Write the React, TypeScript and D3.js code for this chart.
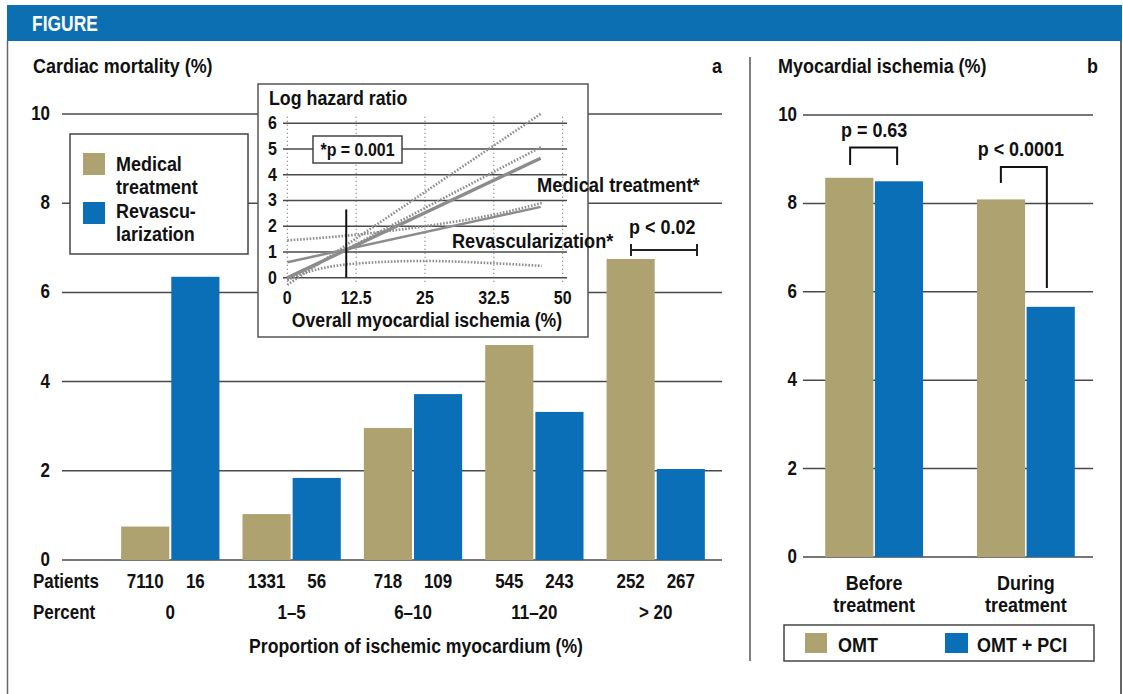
import React from "react";
import * as d3 from "d3";

// ---------- data ----------
const groups = ["0", "1–5", "6–10", "11–20", "> 20"];
const medical = [0.75, 1.03, 2.96, 4.82, 6.75];
const revasc = [6.35, 1.84, 3.72, 3.32, 2.04];
const patientsMedical = [7110, 1331, 718, 545, 252];
const patientsRevasc = [16, 56, 109, 243, 267];
const mainTicks = [0, 2, 4, 6, 8, 10];

const insetXTicks = [0, 12.5, 25, 37.5, 50];
const insetXLabels = ["0", "12.5", "25", "32.5", "50"];
const insetYTicks = [0, 1, 2, 3, 4, 5, 6];
const medicalLine: [number, number][] = [[0, 0], [46, 4.64]];
const medicalUpper: [number, number][] = [[0, -0.28], [46.2, 6.39]];
const medicalLower: [number, number][] = [[0, -0.1], [46.2, 5.09]];
const revascLine: [number, number][] = [[0, 0.6], [46, 2.75]];
const revascUpper: [number, number][] = [[0, 1.45], [12.5, 1.67], [25, 2.0], [37.5, 2.45], [46.2, 2.9]];
const revascLower: [number, number][] = [[0, -0.05], [6, 0.35], [12.5, 0.55], [25, 0.65], [37.5, 0.56], [46.2, 0.46]];
const refX = 10.7;
const refTop = 2.65;

const bGroups = [["Before", "treatment"], ["During", "treatment"]];
const omt = [8.58, 8.09];
const omtPci = [8.5, 5.66];
const bTicks = [0, 2, 4, 6, 8, 10];

// ---------- style ----------
const TAN = "#aea370";
const BLUE = "#0a6fb6";
const HEAD = "#0b6fb2";
const FF = "'Liberation Sans','Arial',sans-serif";
const GRID = "#4a4a4a";
const VS = 1.16; // vertical enlargement
const HS = 0.86; // horizontal condensing

type TP = { x: number; y: number; s: number; a?: "start" | "middle" | "end"; fill?: string; w?: number; children: React.ReactNode };
function T({ x, y, s, a = "start", fill = "#111", w = 1, children }: TP) {
  return (
    <text
      transform={`translate(${x},${y}) scale(${HS * w},1)`}
      fontSize={s * VS}
      textAnchor={a}
      fontFamily={FF}
      fontWeight={700}
      fill={fill}
    >
      {children}
    </text>
  );
}

export default function App() {
  // panel a scales
  const y = d3.scaleLinear().domain([0, 10]).range([560, 114]);
  const xg = d3.scaleBand<string>().domain(groups).range([109, 717]).paddingInner(0.19).paddingOuter(0.1);
  const xs = d3.scaleBand<string>().domain(["m", "r"]).range([0, xg.bandwidth()]).paddingInner(0.04);

  // inset scales
  const ix = d3.scaleLinear().domain([0, 50]).range([287.3, 562.7]);
  const iy = d3.scaleLinear().domain([0, 6]).range([277.7, 123.2]);
  const line = d3.line<[number, number]>().x(d => ix(d[0])).y(d => iy(d[1]));
  const curve = d3.line<[number, number]>().x(d => ix(d[0])).y(d => iy(d[1])).curve(d3.curveMonotoneX);

  // panel b scales
  const yb = d3.scaleLinear().domain([0, 10]).range([557, 115]);
  const bNames = bGroups.map(g => g.join(" "));
  const xb = d3.scaleBand<string>().domain(bNames).range([807, 1093]).paddingInner(0.355).paddingOuter(0.12);
  const xbs = d3.scaleBand<string>().domain(["o", "p"]).range([0, xb.bandwidth()]).paddingInner(0.03);

  const c0 = xb(bNames[0])! + xb.bandwidth() / 2;
  const c1 = xb(bNames[1])! + xb.bandwidth() / 2;
  const dot = { fill: "none", stroke: "#8e8e8e", strokeWidth: 2.6, strokeDasharray: "1.6 1.6" };

  return (
    <svg width={1123} height={694} style={{ position: "absolute", left: 0, top: 0, background: "#fff" }}>
      {/* frame */}
      <rect x={7} y={5} width={1115} height={36} fill={HEAD} />
      <T x={32} y={31} s={19} w={0.92} fill="#fff">FIGURE</T>
      <line x1={7.5} x2={7.5} y1={41} y2={694} stroke="#666" strokeWidth={1.5} />
      <line x1={1121} x2={1121} y1={41} y2={694} stroke="#666" strokeWidth={2} />
      <line x1={750} x2={750} y1={57} y2={661} stroke="#555" strokeWidth={1.5} />

      {/* ---------- panel a ---------- */}
      <T x={33} y={73} s={18}>Cardiac mortality (%)</T>
      <T x={712} y={73} s={18}>a</T>
      {mainTicks.map(t => (
        <g key={t}>
          <line x1={62} x2={722} y1={y(t)} y2={y(t)} stroke={GRID} strokeWidth={1.5} />
          <T x={50} y={y(t) + 6} s={17} a="end">{t}</T>
        </g>
      ))}
      {groups.map((g, i) => (
        <g key={g} transform={`translate(${xg(g)},0)`}>
          <rect x={xs("m")} y={y(medical[i])} width={xs.bandwidth()} height={y(0) - y(medical[i])} fill={TAN} />
          <rect x={xs("r")} y={y(revasc[i])} width={xs.bandwidth()} height={y(0) - y(revasc[i])} fill={BLUE} />
          <T x={xs("m")! + xs.bandwidth() / 2} y={588} s={17} a="middle">{patientsMedical[i]}</T>
          <T x={xs("r")! + xs.bandwidth() / 2} y={588} s={17} a="middle">{patientsRevasc[i]}</T>
          <T x={xg.bandwidth() / 2} y={619} s={17} a="middle">{g}</T>
        </g>
      ))}
      <T x={33} y={588} s={17}>Patients</T>
      <T x={33} y={619} s={17}>Percent</T>
      <T x={416} y={653} s={17} w={1.04} a="middle">Proportion of ischemic myocardium (%)</T>

      {/* legend a */}
      <rect x={70} y={134} width={178} height={120} fill="#fff" stroke="#444" strokeWidth={1.5} />
      <rect x={83} y={153} width={22} height={22} fill={TAN} />
      <rect x={83} y={202} width={22} height={22} fill={BLUE} />
      <T x={116} y={171} s={18}>Medical</T>
      <T x={116} y={194} s={18}>treatment</T>
      <T x={116} y={218} s={18}>Revascu-</T>
      <T x={116} y={241} s={18}>larization</T>

      {/* p < 0.02 */}
      <T x={629} y={234} s={18}>p &lt; 0.02</T>
      <line x1={631} x2={697} y1={250} y2={250} stroke="#222" strokeWidth={2} />
      <line x1={631} x2={631} y1={244} y2={256} stroke="#222" strokeWidth={2} />
      <line x1={697} x2={697} y1={244} y2={256} stroke="#222" strokeWidth={2} />

      {/* ---------- inset ---------- */}
      <rect x={258} y={84} width={330} height={253} fill="#fff" stroke="#555" strokeWidth={1.5} />
      <T x={269} y={105} s={17} w={1.05}>Log hazard ratio</T>
      {insetYTicks.map(t => (
        <g key={t}>
          <line x1={283} x2={567} y1={iy(t)} y2={iy(t)} stroke={GRID} strokeWidth={1.5} />
          <T x={277} y={iy(t) + 6} s={16} a="end">{t}</T>
        </g>
      ))}
      {insetXTicks.map((t, i) => (
        <g key={t}>
          <line x1={ix(t)} x2={ix(t)} y1={iy(6.25)} y2={iy(-0.2)} stroke="#555" strokeWidth={1} strokeDasharray="1 3" />
          <T x={ix(t)} y={304} s={16} a="middle">{insetXLabels[i]}</T>
        </g>
      ))}
      <T x={427} y={327} s={17} w={1.04} a="middle">Overall myocardial ischemia (%)</T>

      <g strokeLinecap="butt">
        <path d={line(medicalUpper)!} {...dot} />
        <path d={line(medicalLower)!} {...dot} />
        <path d={curve(revascUpper)!} {...dot} />
        <path d={curve(revascLower)!} {...dot} />
        <path d={line(revascLine)!} fill="none" stroke="#8c8c8c" strokeWidth={2.5} />
        <path d={line(medicalLine)!} fill="none" stroke="#8c8c8c" strokeWidth={3.4} />
      </g>
      <line x1={ix(refX)} x2={ix(refX)} y1={iy(0)} y2={iy(refTop)} stroke="#111" strokeWidth={2} />

      <rect x={313} y={136} width={89} height={27} fill="#fff" stroke="#444" strokeWidth={1.5} />
      <T x={357.5} y={156} s={16} a="middle">*p = 0.001</T>
      <T x={537} y={192} s={17} w={1.08}>Medical treatment*</T>
      <T x={452} y={248} s={17} w={1.07}>Revascularization*</T>

      {/* ---------- panel b ---------- */}
      <T x={778} y={73} s={18}>Myocardial ischemia (%)</T>
      <T x={1087} y={73} s={18}>b</T>
      {bTicks.map(t => (
        <g key={t}>
          <line x1={803} x2={1093} y1={yb(t)} y2={yb(t)} stroke={GRID} strokeWidth={1.5} />
          <T x={797} y={yb(t) + 6} s={17} a="end">{t}</T>
        </g>
      ))}
      {bNames.map((n, i) => (
        <g key={n} transform={`translate(${xb(n)},0)`}>
          <rect x={xbs("o")} y={yb(omt[i])} width={xbs.bandwidth()} height={yb(0) - yb(omt[i])} fill={TAN} />
          <rect x={xbs("p")} y={yb(omtPci[i])} width={xbs.bandwidth()} height={yb(0) - yb(omtPci[i])} fill={BLUE} />
          <T x={xb.bandwidth() / 2} y={590} s={18} a="middle">{bGroups[i][0]}</T>
          <T x={xb.bandwidth() / 2} y={612} s={18} a="middle">{bGroups[i][1]}</T>
        </g>
      ))}
      {/* brackets */}
      <T x={c0} y={137} s={18} a="middle">p = 0.63</T>
      <path d={`M${c0 - 24},165V147.5H${c0 + 23}V165`} fill="none" stroke="#111" strokeWidth={2} />
      <T x={c1 - 5} y={156} s={18} a="middle">p &lt; 0.0001</T>
      <path d={`M${c1 - 25},183V167H${c1 + 21}V288`} fill="none" stroke="#111" strokeWidth={2} />

      {/* legend b */}
      <rect x={784} y={625} width={310} height={36} fill="#fff" stroke="#444" strokeWidth={1.5} />
      <rect x={805} y={633} width={22} height={20} fill={TAN} />
      <T x={838} y={652} s={18}>OMT</T>
      <rect x={945} y={633} width={23} height={20} fill={BLUE} />
      <T x={977} y={652} s={18}>OMT + PCI</T>
    </svg>
  );
}
